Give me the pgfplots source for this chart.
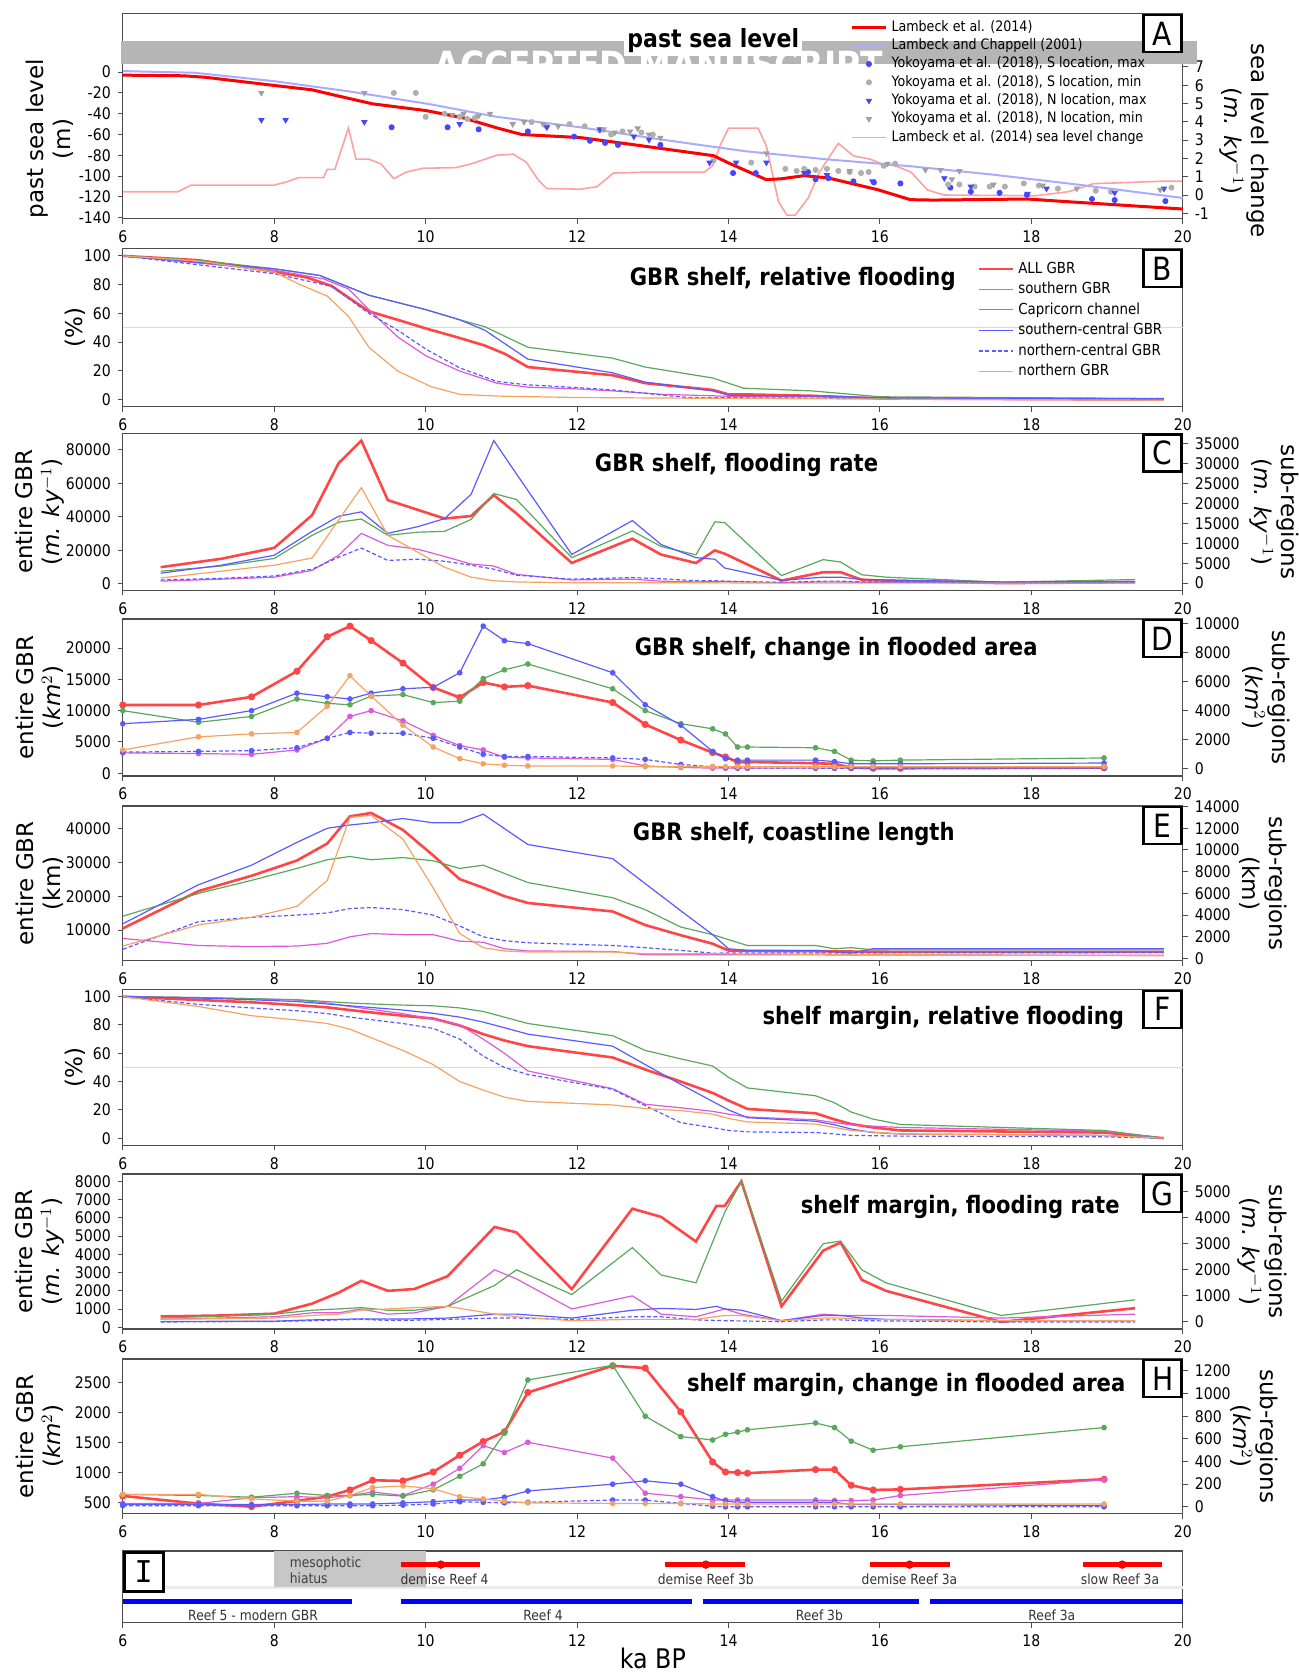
\documentclass[border=0pt]{standalone}
\usepackage{fontspec}
\setmainfont{DejaVu Sans}
\newfontfamily\cond{DejaVu Sans}[FakeStretch=0.88]
\newfontfamily\monof{DejaVu Sans Mono}
\usepackage{pgfplots}
\pgfplotsset{compat=1.18}

\definecolor{cR}{RGB}{255,70,70}
\definecolor{cM}{RGB}{218,90,218}
\definecolor{cG}{RGB}{90,168,90}
\definecolor{cB}{RGB}{90,90,255}
\definecolor{cO}{RGB}{246,162,96}
\definecolor{cLB}{RGB}{170,170,255}
\definecolor{cPk}{RGB}{255,160,160}
\definecolor{cSB}{RGB}{70,70,255}
\definecolor{cGy}{RGB}{175,175,175}
\definecolor{cGt}{RGB}{160,160,160}
\definecolor{band}{RGB}{181,181,181}

\newcommand{\tickf}{\cond\fontsize{8}{9}\selectfont}
\newcommand{\titf}{\cond\bfseries\fontsize{12}{14}\selectfont}
\newcommand{\labf}{\fontsize{11.5}{13.5}\selectfont}
\newcommand{\legf}{\cond\fontsize{7.2}{8}\selectfont}
\newcommand{\boxf}{\cond\fontsize{16}{16}\selectfont}
\newcommand{\smf}{\cond\fontsize{7}{8}\selectfont}

\tikzset{pbox/.style={draw=black, line width=1.2pt, fill=white, anchor=north east, minimum width=19pt, minimum height=18.5pt, inner sep=0pt, font=\boxf}}

\pgfplotsset{
 gbase/.style={scale only axis, width=530pt, xmin=6, xmax=20, xtick={6,8,10,12,14,16,18,20},
   tick label style={font=\tickf}, /pgf/number format/assume math mode=true,
   /pgf/number format/1000 sep={}, scaled y ticks=false, scaled x ticks=false,
   tick align=outside, major tick length=2.5pt,
   every tick/.style={black!70, line width=0.5pt},
   axis line style={black!70, line width=0.6pt}, clip=false, anchor=north west},
 lft/.style={gbase, xtick pos=bottom, ytick pos=left},
 rgt/.style={gbase, axis x line=none, axis y line*=right},
 pR/.style={cR, line width=1.3pt, mark=none},
 pM/.style={cM, line width=0.6pt, mark=none},
 pG/.style={cG, line width=0.6pt, mark=none},
 pB/.style={cB, line width=0.6pt, mark=none},
 pBd/.style={cB, line width=0.6pt, mark=none, dash pattern=on 2pt off 1.2pt},
 pO/.style={cO, line width=0.6pt, mark=none},
 mk/.style={mark=*, mark size=1.1pt, mark options={solid}},
}

\begin{document}
\begin{tikzpicture}
\useasboundingbox (0,0) rectangle (649pt,-837pt);

%%%%%%%%%%%%%%%% A %%%%%%%%%%%%%%%%
\begin{axis}[rgt, at={(61.4pt,-6.95pt)}, height=102.45pt, ymin=-1.3, ymax=9.9, ytick={-1,0,...,7}]
\addplot[cPk, line width=0.8pt] coordinates {(6,0.18)(6.73,0.18)(6.9,0.54)(8,0.54)(8.15,0.7)(8.32,0.95)(8.65,0.95)(8.7,1.4)(8.8,1.4)(8.98,3.66)(9.08,1.96)(9.25,1.96)(9.41,1.7)(9.58,0.89)(9.74,1.25)(9.96,1.46)(10.4,1.5)(10.6,1.7)(10.94,2.18)(11.16,2.23)(11.33,1.79)(11.49,0.8)(11.6,0.36)(12.04,0.32)(12.26,0.45)(12.48,1.2)(12.9,1.25)(13.68,1.25)(13.79,1.6)(13.9,2.8)(14,3.66)(14.39,3.66)(14.5,2.68)(14.66,-0.36)(14.77,-1.1)(14.88,-1.1)(15.05,-0.18)(15.2,1.25)(15.45,2.82)(15.65,2.14)(15.87,1.96)(16.03,1.7)(16.2,1.6)(16.41,1.25)(16.63,0.27)(16.85,0)(18.05,-0.04)(18.49,0.18)(18.82,0.62)(19.25,0.68)(19.7,0.75)(20,0.75)};
\end{axis}
\begin{axis}[lft, at={(61.4pt,-6.95pt)}, height=102.45pt, ymin=-141, ymax=56, ytick={-140,-120,...,0},
  legend style={at={(0.686,0.99)}, anchor=north west, draw=none, fill=none, font=\legf, row sep=-1.8pt, inner sep=0pt}, legend cell align=left]
\addplot[red, line width=1.5pt] coordinates {(6,-2.9)(6.8,-3.5)(7.1,-5)(8,-12.8)(8.5,-17)(8.76,-21.5)(9.3,-30.5)(10,-36.9)(10.5,-44)(10.94,-53.6)(11.27,-60)(12.04,-62.9)(12.7,-69.3)(13.8,-80.3)(14,-87.3)(14.5,-103.4)(14.7,-102.5)(15,-99.5)(15.32,-101.8)(15.97,-113)(16.4,-122.6)(16.7,-123)(17.95,-122)(18.4,-124.2)(20,-131.6)};
\addlegendentry{Lambeck et al. (2014)}
\addplot[cLB, line width=1pt] coordinates {(6,1)(6.95,-0.6)(8,-8.7)(8.97,-18.3)(10.07,-31)(10.94,-43)(12.04,-53)(13.13,-65)(14.22,-76)(15.32,-84)(16.41,-90.5)(17.5,-98.6)(18.6,-108)(20,-121)};
\addlegendentry{Lambeck and Chappell (2001)}
\addplot[cSB, only marks, mark=*, mark size=1.3pt] coordinates {(9.55,-53)(10.29,-53)(10.7,-55)(11.35,-57)(11.96,-62)(12.17,-66)(12.37,-68)(12.54,-70)(13.1,-70)(14.06,-97)(14.36,-97)(15.05,-96)(15.15,-103)(15.32,-102)(15.65,-105)(15.92,-106)(16.27,-107)(16.93,-111)(17.2,-115)(17.58,-116)(17.94,-118)(18.8,-122)(19.1,-123)(19.77,-124)};
\addlegendentry{Yokoyama et al. (2018), S location, max}
\addplot[cGy, only marks, mark=*, mark size=1.3pt] coordinates {(9.58,-20)(9.87,-20)(10.0,-43)(10.25,-40)(10.45,-43)(10.55,-45)(10.65,-44)(11.4,-48)(11.6,-52)(11.9,-50)(12.1,-52)(12.3,-56)(12.45,-60)(12.6,-57)(12.85,-58)(13.0,-60)(13.8,-85)(14.3,-87)(14.75,-93)(14.9,-95)(15.0,-93)(15.15,-94)(15.3,-93)(15.45,-95)(15.6,-96)(15.75,-97)(15.85,-96)(16.05,-90)(16.2,-88)(16.9,-108)(17.05,-108)(17.25,-110)(17.45,-110)(17.65,-110)(17.9,-107)(18.1,-109)(18.35,-112)(18.85,-114)(19.05,-115)(19.85,-111)};
\addlegendentry{Yokoyama et al. (2018), S location, min}
\addplot[cSB, only marks, mark=triangle*, mark size=1.5pt, mark options={rotate=180}] coordinates {(7.83,-46)(8.15,-46)(9.19,-48)(10.45,-50)(11.6,-53)(12.3,-55)(12.75,-62)(12.95,-65)(13.75,-87)(14.1,-87)(14.5,-87)(15.0,-97)(15.3,-99)(15.9,-105)(16.85,-102)(17.2,-110)(17.95,-117)(18.2,-112)(19.1,-116)(19.75,-112)};
\addlegendentry{Yokoyama et al. (2018), N location, max}
\addplot[cGt, only marks, mark=triangle*, mark size=1.5pt, mark options={rotate=180}] coordinates {(7.83,-20)(9.19,-20)(10.35,-41)(10.5,-40)(10.7,-42)(10.85,-40)(11.15,-50)(11.3,-48)(11.55,-50)(11.75,-52)(12.35,-55)(12.5,-58)(12.7,-57)(12.8,-54)(12.95,-60)(13.1,-63)(14.5,-78)(15.6,-95)(16.1,-88)(16.6,-94)(16.8,-94)(16.95,-103)(17.05,-95)(17.5,-108)(18.15,-109)(18.6,-112)(19.7,-113)};
\addlegendentry{Yokoyama et al. (2018), N location, min}
\addlegendimage{cPk, line width=0.8pt}
\addlegendentry{Lambeck et al. (2014) sea level change}
\fill[band] (axis cs:5.97,7.4) rectangle (axis cs:20.19,29.9);
\node[white, anchor=north, inner sep=0pt, font=\cond\bfseries\fontsize{18.7}{19}\selectfont] at (axis cs:13.08,20.5) {ACCEPTED MANUSCRIPT};
\node[fill=white, inner sep=1.5pt, font=\cond\bfseries\fontsize{12.5}{14}\selectfont] at (rel axis cs:0.557,0.87) {past sea level};
\node[pbox] at (rel axis cs:1,1) {A};
\node[rotate=90, align=center, font=\labf] at (rel axis cs:-0.069,0.39) {past sea level\\(m)};
\node[rotate=-90, align=center, font=\labf] at (rel axis cs:1.058,0.38) {sea level change\\(\textit{m. ky}$^{-1}$)};
\end{axis}

%%%%%%%%%%%%%%%% B %%%%%%%%%%%%%%%%
\begin{axis}[lft, at={(61.4pt,-124.35pt)}, height=79pt, ymin=-5, ymax=105, ytick={0,20,...,100},
  legend style={at={(0.806,0.945)}, anchor=north west, draw=none, fill=none, font=\cond\fontsize{7.6}{8}\selectfont, row sep=-1pt, inner sep=0pt}, legend cell align=left]
\addplot[black!15, line width=0.6pt, forget plot] coordinates {(6,50)(20,50)};
\addplot[pR] coordinates {(6,100)(7,97)(8,89)(8.43,85)(8.76,79)(8.98,71)(9.25,61.4)(9.63,55.5)(10,49.5)(10.4,43.6)(10.78,37.6)(11.05,31.7)(11.35,22.6)(11.82,20.2)(12.47,16.9)(12.9,11.4)(13.35,9)(13.79,6.7)(14,3.6)(14.2,3.6)(15.1,2.6)(15.43,1.9)(16,0.7)(19.75,0)};
\addlegendentry{ALL GBR}
\addplot[pM] coordinates {(6,100)(8,90)(8.65,84)(8.98,77)(9.25,62.6)(9.63,43.6)(10,30.5)(10.45,19.8)(10.94,11.4)(11.35,8.6)(12,7.4)(12.47,6)(13.13,3.6)(13.79,2.6)(14.2,1.9)(15.3,1.9)(16,0.7)(19.75,0)};
\addlegendentry{southern GBR}
\addplot[pG] coordinates {(6,100)(7,97)(8,91)(8.6,86.4)(9.25,72.6)(10,62.6)(10.45,55.5)(10.78,50.7)(11.35,36.4)(12.47,28.8)(12.9,22.6)(13.79,15)(14.2,7.9)(15.1,6)(16,1.9)(19.75,0.7)};
\addlegendentry{Capricorn channel}
\addplot[pB] coordinates {(6,100)(8,91)(8.6,86.4)(9.25,72.6)(10,62.6)(10.45,55.5)(10.78,48.3)(11.35,28.1)(12.47,18.6)(12.9,12.1)(13.79,6)(14,3.1)(14.2,2.6)(15.3,2.4)(16,1.2)(19.75,0.5)};
\addlegendentry{southern-central GBR}
\addplot[pBd] coordinates {(6,100)(8,87.6)(8.76,78.8)(9.25,60)(9.63,48.3)(10,35.2)(10.45,22)(10.94,12.6)(11.35,10.2)(12,8.3)(12.47,6.7)(13.13,3.1)(13.46,1.4)(14,1.2)(19.75,0)};
\addlegendentry{northern-central GBR}
\addplot[pO] coordinates {(6,100)(7,96.4)(8,88.8)(8.32,80.5)(8.7,72)(8.98,57.9)(9.25,36.4)(9.63,19.8)(10.07,9)(10.45,3.6)(10.94,2.4)(12,1.4)(14.2,0.7)(19.75,-0.5)};
\addlegendentry{northern GBR}
\node[font=\titf] at (rel axis cs:0.632,0.81) {GBR shelf, relative flooding};
\node[pbox] at (rel axis cs:1,1) {B};
\node[rotate=90, font=\labf] at (rel axis cs:-0.045,0.5) {(\%)};
\end{axis}

%%%%%%%%%%%%%%%% C %%%%%%%%%%%%%%%%
\begin{axis}[lft, at={(61.4pt,-216.7pt)}, height=78.45pt, ymin=-3800, ymax=89800, ytick={0,20000,...,80000}]
\addplot[pR] coordinates {(6.5,10000)(7.3,15000)(8,21500)(8.5,41000)(8.85,72000)(9.15,85500)(9.5,50000)(10.25,39000)(10.6,40500)(10.9,53000)(11.2,42000)(11.93,12500)(12.73,27000)(13.11,17500)(13.57,12500)(13.82,20000)(13.95,18000)(14.7,2000)(15.25,7000)(15.48,7000)(15.76,2500)(16.08,2000)(17.6,500)(19.37,1000)};
\node[rotate=90, align=center, font=\labf] at (rel axis cs:-0.078,0.5) {entire GBR\\(\textit{m. ky}$^{-1}$)};
\end{axis}
\begin{axis}[rgt, at={(61.4pt,-216.7pt)}, height=78.45pt, ymin=-1800, ymax=37600, ytick={0,5000,...,35000}]
\addplot[pM] coordinates {(6.5,500)(7.3,1000)(8,1500)(8.5,3200)(8.85,7000)(9.15,12500)(9.5,9500)(9.9,8500)(10.25,6700)(10.6,4800)(10.9,4300)(11.2,2200)(11.93,800)(12.73,1000)(13.11,500)(13.57,300)(13.82,400)(13.95,400)(14.7,100)(15.25,300)(15.48,300)(15.76,200)(16.08,200)(17.6,100)(19.37,200)};
\addplot[pG] coordinates {(6.5,3000)(7.3,4300)(8,6200)(8.5,12000)(8.85,15300)(9.15,16100)(9.5,12000)(9.9,12800)(10.25,13000)(10.6,16000)(10.9,22500)(11.2,21000)(11.93,6400)(12.73,13100)(13.11,9200)(13.57,7100)(13.82,15400)(13.95,15200)(14.7,1900)(15.25,5900)(15.48,5300)(15.76,2100)(16.08,1500)(17.6,250)(19.37,900)};
\addplot[pB] coordinates {(6.5,2500)(7.3,4500)(8,7000)(8.5,13000)(8.85,16800)(9.15,17900)(9.5,12500)(9.9,14200)(10.25,16200)(10.6,22300)(10.9,35800)(11.2,27400)(11.93,7200)(12.73,15700)(13.11,9700)(13.57,6400)(13.82,6000)(13.95,3800)(14.7,700)(15.25,1500)(15.48,1500)(15.76,900)(16.08,800)(17.6,300)(19.37,400)};
\addplot[pBd] coordinates {(6.5,800)(7.3,1200)(8,1800)(8.5,3500)(8.85,6500)(9.15,8800)(9.5,5700)(9.9,6000)(10.25,5500)(10.6,4500)(10.9,3500)(11.2,2000)(11.93,1000)(12.73,1400)(13.11,1100)(13.57,600)(13.82,600)(13.95,500)(14.7,200)(15.25,500)(15.48,500)(15.76,300)(16.08,300)(17.6,100)(19.37,200)};
\addplot[pO] coordinates {(6.5,1300)(7.3,3000)(8,4500)(8.5,6300)(9.15,24000)(9.5,12000)(10.25,4000)(10.6,1500)(10.9,600)(11.2,300)(11.93,100)(12.73,100)(13.57,100)(14.7,0)(17.6,0)(19.37,0)};
\node[font=\titf] at (rel axis cs:0.579,0.80) {GBR shelf, flooding rate};
\node[pbox] at (rel axis cs:1,1) {C};
\node[rotate=-90, align=center, font=\labf] at (rel axis cs:1.086,0.5) {sub-regions\\(\textit{m. ky}$^{-1}$)};
\end{axis}

%%%%%%%%%%%%%%%% D %%%%%%%%%%%%%%%%
\begin{axis}[lft, at={(61.4pt,-309.5pt)}, height=78.5pt, ymin=-440, ymax=24640, ytick={0,5000,...,20000}]
\addplot[pR, mk] coordinates {(6,10900)(7,10900)(7.7,12200)(8.3,16300)(8.7,21800)(9.0,23500)(9.28,21200)(9.7,17600)(10.1,13700)(10.45,12100)(10.76,14500)(11.04,13800)(11.35,14000)(12.47,11300)(12.9,7800)(13.37,5300)(13.79,3300)(13.96,2600)(14.12,1800)(14.25,1800)(15.15,1600)(15.4,1500)(15.62,900)(15.91,800)(16.27,800)(18.96,900)};
\node[rotate=90, align=center, font=\labf] at (rel axis cs:-0.078,0.5) {entire GBR\\(\textit{km}$^{2}$)};
\end{axis}
\begin{axis}[rgt, at={(61.4pt,-309.5pt)}, height=78.5pt, ymin=-490, ymax=10290, ytick={0,2000,...,10000}]
\addplot[pM, mk] coordinates {(6,1100)(7,1050)(7.7,1000)(8.3,1300)(8.7,2100)(9.0,3600)(9.28,4000)(9.7,3300)(10.1,2300)(10.45,1600)(10.76,1300)(11.04,800)(11.35,750)(12.47,650)(12.9,200)(13.37,100)(13.79,50)(13.96,50)(14.12,50)(14.25,50)(15.15,50)(15.4,50)(15.62,50)(15.91,50)(16.27,50)(18.96,100)};
\addplot[pG, mk] coordinates {(6,4000)(7,3200)(7.7,3600)(8.3,4800)(8.7,4500)(9.0,4400)(9.28,5000)(9.7,5100)(10.1,4550)(10.45,4650)(10.76,6200)(11.04,6800)(11.35,7200)(12.47,5500)(12.9,4000)(13.37,3100)(13.79,2750)(13.96,2400)(14.12,1500)(14.25,1500)(15.15,1450)(15.4,1200)(15.62,600)(15.91,550)(16.27,600)(18.96,750)};
\addplot[pB, mk] coordinates {(6,3100)(7,3400)(7.7,4000)(8.3,5200)(8.7,4950)(9.0,4800)(9.28,5200)(9.7,5500)(10.1,5600)(10.45,6600)(10.76,9800)(11.04,8800)(11.35,8600)(12.47,6600)(12.9,4400)(13.37,3000)(13.79,1200)(13.96,700)(14.12,600)(14.25,600)(15.15,600)(15.4,500)(15.62,350)(15.91,350)(16.27,350)(18.96,400)};
\addplot[pBd, mk] coordinates {(6,1150)(7,1200)(7.7,1250)(8.3,1450)(8.7,2100)(9.0,2500)(9.28,2450)(9.7,2450)(10.1,2100)(10.45,1500)(10.76,1000)(11.04,850)(11.35,850)(12.47,750)(12.9,650)(13.37,300)(13.79,150)(13.96,80)(14.12,60)(14.25,50)(15.15,50)(15.4,40)(15.62,40)(15.91,40)(16.27,40)(18.96,40)};
\addplot[pO, mk] coordinates {(6,1300)(7,2200)(7.7,2400)(8.3,2500)(8.7,4300)(9.0,6400)(9.28,5000)(9.7,3000)(10.1,1500)(10.45,700)(10.76,350)(11.04,250)(11.35,200)(12.47,200)(12.9,150)(13.37,150)(13.79,150)(13.96,150)(14.12,150)(14.25,150)(15.15,150)(15.4,150)(15.62,150)(15.91,150)(16.27,150)(18.96,150)};
\node[font=\titf] at (rel axis cs:0.673,0.81) {GBR shelf, change in flooded area};
\node[pbox] at (rel axis cs:1,1) {D};
\node[rotate=-90, align=center, font=\labf] at (rel axis cs:1.079,0.5) {sub-regions\\(\textit{km}$^{2}$)};
\end{axis}

%%%%%%%%%%%%%%%% E %%%%%%%%%%%%%%%%
\begin{axis}[lft, at={(61.4pt,-403pt)}, height=77.35pt, ymin=1000, ymax=46550, ytick={10000,20000,30000,40000}]
\addplot[pR] coordinates {(6,10500)(7,21500)(7.7,26000)(8.3,30500)(8.7,35500)(9.0,43500)(9.28,44500)(9.7,39500)(10.1,32000)(10.45,25000)(10.76,22500)(11.04,20000)(11.35,18000)(12.47,15500)(12.9,11500)(13.37,8500)(13.79,6000)(14.0,4000)(14.25,3900)(15.15,3800)(15.62,3700)(16.27,3600)(19.75,3600)};
\node[rotate=90, align=center, font=\labf] at (rel axis cs:-0.078,0.5) {entire GBR\\(km)};
\end{axis}
\begin{axis}[rgt, at={(61.4pt,-403pt)}, height=77.35pt, ymin=-200, ymax=14050, ytick={0,2000,...,14000}]
\addplot[pM] coordinates {(6,1850)(7,1200)(7.7,1100)(8.3,1150)(8.7,1400)(9.0,2000)(9.28,2300)(9.7,2200)(10.1,2200)(10.45,1600)(10.76,1500)(11.04,900)(11.35,700)(12.47,650)(12.9,350)(13.37,350)(19.75,300)};
\addplot[pG] coordinates {(6,3900)(7,6000)(7.7,7200)(8.3,8300)(8.7,9100)(9.0,9400)(9.28,9100)(9.7,9300)(10.1,9000)(10.45,8300)(10.76,8600)(11.35,7000)(12.47,5600)(12.9,4500)(13.37,2900)(13.79,2200)(14.25,1200)(15.15,1200)(15.4,900)(15.62,1000)(15.91,800)(16.27,800)(19.75,800)};
\addplot[pB] coordinates {(6,3200)(7,6800)(7.7,8600)(8.3,10700)(8.7,12000)(9.0,12300)(9.28,12500)(9.7,12900)(10.1,12500)(10.45,12500)(10.76,13300)(11.35,10500)(12.47,9200)(12.9,6900)(13.37,4400)(13.79,2200)(14.0,900)(14.25,750)(15.15,750)(15.62,500)(15.91,900)(16.27,900)(19.75,900)};
\addplot[pBd] coordinates {(6,850)(7,3400)(7.7,3800)(8.3,4000)(8.7,4200)(9.0,4600)(9.28,4700)(9.7,4500)(10.1,4000)(10.45,3000)(10.76,2000)(11.04,1650)(11.35,1450)(12.47,1200)(12.9,1000)(13.37,750)(13.79,500)(19.75,550)};
\addplot[pO] coordinates {(6,1150)(7,3100)(7.7,3800)(8.3,4800)(8.7,7200)(9.0,13000)(9.28,13200)(9.7,11000)(10.1,6500)(10.45,2300)(10.76,1000)(11.04,700)(11.35,600)(12.47,600)(12.9,450)(13.37,450)(19.75,250)};
\node[font=\titf] at (rel axis cs:0.633,0.82) {GBR shelf, coastline length};
\node[pbox] at (rel axis cs:1,1) {E};
\node[rotate=-90, align=center, font=\labf] at (rel axis cs:1.076,0.5) {sub-regions\\(km)};
\end{axis}

%%%%%%%%%%%%%%%% F %%%%%%%%%%%%%%%%
\begin{axis}[lft, at={(61.4pt,-494.75pt)}, height=77.9pt, ymin=-5, ymax=105, ytick={0,20,...,100}]
\addplot[black!15, line width=0.6pt] coordinates {(6,50)(20,50)};
\addplot[pR] coordinates {(6,100)(7,97.6)(7.7,96)(8.3,94)(8.7,92.4)(9.0,90.5)(9.3,88.7)(9.7,86.5)(10.1,84.5)(10.45,79.6)(10.76,73.5)(11.04,69)(11.35,65)(12.47,57)(12.9,48.5)(13.37,40)(13.79,32)(14.0,26.6)(14.25,20.7)(15.15,17.6)(15.4,13.3)(15.62,10)(15.91,7.6)(16.27,5.5)(18.96,4)(19.75,0)};
\addplot[pM] coordinates {(6,100)(7,99.3)(7.7,98.5)(8.3,97.6)(8.7,95.5)(9.0,93)(9.7,88)(10.1,84)(10.45,80)(10.76,70)(11.04,60)(11.35,47.5)(12.47,35)(12.9,24)(13.37,21.5)(13.79,19)(14.0,17)(14.25,15)(15.15,13)(15.4,11)(15.62,9.5)(15.91,8.5)(16.27,7.6)(18.96,5)(19.75,0)};
\addplot[pG] coordinates {(6,100)(7,99.3)(7.7,98.5)(8.3,97.8)(8.7,96.5)(9.0,95.5)(9.3,94.8)(9.7,94)(10.1,93.5)(10.45,92)(10.76,89.5)(11.04,85.5)(11.35,81)(12.47,72.4)(12.9,62)(13.37,56)(13.79,51)(14.0,43)(14.25,35.5)(15.15,30)(15.4,25)(15.62,18.5)(15.91,13.5)(16.27,9.7)(18.96,5.5)(19.75,0)};
\addplot[pB] coordinates {(6,100)(7,99)(7.7,97.8)(8.3,96.5)(8.7,94.8)(9.0,93.5)(9.7,90.5)(10.1,88.2)(10.45,85.5)(10.76,82)(11.04,78)(11.35,73.5)(12.47,65)(12.9,52)(13.37,38)(13.79,26)(14.0,20)(14.25,14.5)(15.15,12)(15.4,9.5)(15.62,6.5)(15.91,4)(16.27,3)(18.96,2)(19.75,0)};
\addplot[pBd] coordinates {(6,100)(7,94.5)(7.7,92)(8.3,90)(8.7,88)(9.0,85.5)(9.7,81)(10.1,77.5)(10.45,70)(10.76,58)(11.04,50)(11.35,45)(12.47,34.5)(12.9,23)(13.37,11)(13.79,7.5)(14.0,5.5)(14.25,4.5)(15.15,4)(15.4,3)(15.62,2)(16.27,1.5)(18.96,1)(19.75,0)};
\addplot[pO] coordinates {(6,100)(7,93)(7.7,86.5)(8.3,83.5)(8.7,81)(9.0,77)(9.3,70.5)(9.7,62)(10.1,52)(10.45,40)(10.76,34)(11.04,29)(11.35,26)(12.47,23.5)(12.9,21)(13.37,19.5)(13.79,17)(14.0,14)(14.25,11.5)(15.15,10)(15.4,7.6)(15.62,5.5)(16.27,3)(18.96,2)(19.75,0)};
\node[font=\titf] at (rel axis cs:0.774,0.815) {shelf margin, relative flooding};
\node[pbox] at (rel axis cs:1,1) {F};
\node[rotate=90, font=\labf] at (rel axis cs:-0.045,0.5) {(\%)};
\end{axis}

%%%%%%%%%%%%%%%% G %%%%%%%%%%%%%%%%
\begin{axis}[lft, at={(61.4pt,-587pt)}, height=77.5pt, ymin=-90, ymax=8400, ytick={0,1000,...,8000}]
\addplot[pR] coordinates {(6.5,600)(7.3,650)(8.0,750)(8.5,1300)(8.85,1900)(9.15,2550)(9.5,2000)(9.85,2100)(10.29,2800)(10.91,5500)(11.2,5200)(11.93,2100)(12.73,6500)(13.11,6050)(13.57,4700)(13.84,6650)(13.95,6650)(14.17,8000)(14.7,1150)(15.25,4200)(15.48,4650)(15.76,2600)(16.08,2000)(17.6,300)(19.37,1050)};
\node[rotate=90, align=center, font=\labf] at (rel axis cs:-0.078,0.5) {entire GBR\\(\textit{m. ky}$^{-1}$)};
\end{axis}
\begin{axis}[rgt, at={(61.4pt,-587pt)}, height=77.5pt, ymin=-270, ymax=5670, ytick={0,1000,...,5000}]
\addplot[pM] coordinates {(6.5,100)(8.0,200)(8.5,350)(8.85,350)(9.15,500)(9.5,300)(9.85,350)(10.29,600)(10.91,2000)(11.2,1650)(11.93,500)(12.73,1000)(13.11,300)(13.57,200)(13.95,500)(14.17,300)(14.7,50)(15.25,300)(15.48,250)(15.76,250)(16.08,250)(17.6,150)(19.37,300)};
\addplot[pG] coordinates {(6.5,150)(8.0,300)(8.5,450)(8.85,500)(9.15,550)(9.5,450)(9.85,450)(10.29,600)(10.91,1400)(11.2,2000)(11.93,1050)(12.73,2850)(13.11,1800)(13.57,1500)(13.95,4200)(14.17,5400)(14.7,800)(15.25,3000)(15.48,3100)(15.76,2000)(16.08,1500)(17.6,250)(19.37,850)};
\addplot[pB] coordinates {(6.5,20)(8.0,30)(8.5,80)(8.85,100)(9.15,120)(9.5,110)(9.85,120)(10.29,150)(10.91,300)(11.2,300)(11.93,150)(12.73,450)(13.11,520)(13.57,480)(13.84,600)(13.95,500)(14.17,450)(14.7,50)(15.25,250)(15.48,250)(15.76,150)(16.08,100)(17.6,50)(19.37,50)};
\addplot[pBd] coordinates {(6.5,0)(8.0,20)(8.5,50)(8.85,80)(9.15,100)(9.5,60)(9.85,70)(10.29,100)(10.91,150)(11.2,150)(11.93,100)(12.73,200)(13.11,200)(13.57,80)(13.95,50)(14.17,40)(14.7,10)(15.25,80)(15.48,80)(15.76,50)(16.08,40)(17.6,0)(19.37,0)};
\addplot[pO] coordinates {(6.5,100)(8.0,150)(8.5,250)(8.85,300)(9.15,450)(9.5,500)(9.85,550)(10.29,600)(10.91,300)(11.2,200)(11.93,50)(12.73,100)(13.11,100)(13.57,100)(13.95,250)(14.17,250)(14.7,50)(15.25,150)(15.48,150)(15.76,100)(16.08,100)(17.6,50)(19.37,50)};
\node[font=\titf] at (rel axis cs:0.79,0.786) {shelf margin, flooding rate};
\node[pbox] at (rel axis cs:1,1) {G};
\node[rotate=-90, align=center, font=\labf] at (rel axis cs:1.075,0.5) {sub-regions\\(\textit{m. ky}$^{-1}$)};
\end{axis}

%%%%%%%%%%%%%%%% H %%%%%%%%%%%%%%%%
\begin{axis}[lft, at={(61.4pt,-679.5pt)}, height=77.3pt, ymin=317, ymax=2890, ytick={500,1000,...,2500}]
\addplot[pR, mk] coordinates {(6,611)(7,483)(7.7,433)(8.3,528)(8.7,600)(9.0,711)(9.3,872)(9.7,861)(10.1,1011)(10.45,1289)(10.76,1517)(11.04,1678)(11.35,2333)(12.47,2778)(12.9,2739)(13.37,2011)(13.79,1178)(13.96,1010)(14.12,1000)(14.25,990)(15.15,1050)(15.4,1050)(15.62,789)(15.91,711)(16.27,720)(18.96,889)};
\node[rotate=90, align=center, font=\labf] at (rel axis cs:-0.078,0.5) {entire GBR\\(\textit{km}$^{2}$)};
\end{axis}
\begin{axis}[rgt, at={(61.4pt,-679.5pt)}, height=77.3pt, ymin=-60, ymax=1305, ytick={0,200,...,1200}]
\addplot[pM, mk] coordinates {(6,30)(7,30)(7.7,80)(8.3,90)(8.7,80)(9.0,100)(9.3,130)(9.7,100)(10.1,200)(10.45,340)(10.76,540)(11.04,480)(11.35,570)(12.47,430)(12.9,120)(13.37,90)(13.79,60)(13.96,60)(14.12,60)(14.25,60)(15.15,60)(15.4,55)(15.62,55)(15.91,60)(16.27,100)(18.96,240)};
\addplot[pG, mk] coordinates {(6,110)(7,100)(7.7,85)(8.3,120)(8.7,100)(9.0,100)(9.3,110)(9.7,95)(10.1,150)(10.45,270)(10.76,380)(11.04,650)(11.35,1120)(12.47,1250)(12.9,800)(13.37,620)(13.79,590)(13.96,640)(14.12,660)(14.25,680)(15.15,740)(15.4,700)(15.62,580)(15.91,500)(16.27,530)(18.96,700)};
\addplot[pB, mk] coordinates {(6,20)(7,20)(7.7,20)(8.3,20)(8.7,25)(9.0,25)(9.3,25)(9.7,35)(10.1,45)(10.45,60)(10.76,60)(11.04,85)(11.35,140)(12.47,200)(12.9,230)(13.37,200)(13.79,90)(13.96,50)(14.12,40)(14.25,40)(15.15,40)(15.4,40)(15.62,20)(15.91,20)(16.27,20)(18.96,10)};
\addplot[pBd, mk] coordinates {(6,10)(7,10)(7.7,10)(8.3,10)(8.7,10)(9.0,10)(9.3,10)(9.7,15)(10.1,25)(10.45,45)(10.76,40)(11.04,35)(11.35,40)(12.47,60)(12.9,60)(13.37,30)(13.79,5)(13.96,0)(14.12,0)(14.25,0)(15.15,0)(15.4,0)(15.62,0)(15.91,0)(16.27,0)(18.96,0)};
\addplot[pO, mk] coordinates {(6,110)(7,110)(7.7,70)(8.3,50)(8.7,50)(9.0,100)(9.3,170)(9.7,185)(10.1,160)(10.45,90)(10.76,70)(11.04,50)(11.35,35)(12.47,30)(12.9,30)(13.37,30)(13.79,25)(13.96,25)(14.12,25)(14.25,25)(15.15,25)(15.4,25)(15.62,25)(15.91,25)(16.27,25)(18.96,25)};
\node[font=\titf] at (rel axis cs:0.739,0.83) {shelf margin, change in flooded area};
\node[pbox] at (rel axis cs:1,1) {H};
\node[rotate=-90, align=center, font=\labf] at (rel axis cs:1.067,0.5) {sub-regions\\(\textit{km}$^{2}$)};
\end{axis}

%%%%%%%%%%%%%%%% I %%%%%%%%%%%%%%%%
\begin{axis}[lft, at={(61.4pt,-775.5pt)}, height=35.75pt, ymin=0, ymax=1, ytick=\empty]
\addplot[black!8, line width=1.4pt] coordinates {(6,0.49)(20,0.49)};
\addplot[fill=black!22, draw=none] coordinates {(8,0.5)(10,0.5)(10,1)(8,1)} -- cycle;
\addplot[red, line width=2.3pt] coordinates {(9.67,0.81)(10.72,0.81)};
\addplot[red, line width=2.3pt] coordinates {(13.16,0.81)(14.22,0.81)};
\addplot[red, line width=2.3pt] coordinates {(15.87,0.81)(16.93,0.81)};
\addplot[red, line width=2.3pt] coordinates {(18.68,0.81)(19.73,0.81)};
\addplot[red, only marks, mark=*, mark size=1.9pt] coordinates {(10.2,0.81)(13.7,0.81)(16.39,0.81)(19.2,0.81)};
\addplot[blue, line width=2.3pt] coordinates {(6,0.29)(9.03,0.29)};
\addplot[blue, line width=2.3pt] coordinates {(9.67,0.29)(13.52,0.29)};
\addplot[blue, line width=2.3pt] coordinates {(13.66,0.29)(16.52,0.29)};
\addplot[blue, line width=2.3pt] coordinates {(16.66,0.29)(20,0.29)};
\node[anchor=north west, align=left, inner sep=0pt, font=\smf, text=black!75] at (axis cs:8.2,0.93) {mesophotic\\hiatus};
\node[font=\smf, text=black!80] at (axis cs:10.25,0.6) {demise Reef 4};
\node[font=\smf, text=black!80] at (axis cs:13.7,0.6) {demise Reef 3b};
\node[font=\smf, text=black!80] at (axis cs:16.39,0.6) {demise Reef 3a};
\node[font=\smf, text=black!80] at (axis cs:19.17,0.6) {slow Reef 3a};
\node[font=\smf, text=black!80] at (axis cs:7.72,0.1) {Reef 5 - modern GBR};
\node[font=\smf, text=black!80] at (axis cs:11.55,0.1) {Reef 4};
\node[font=\smf, text=black!80] at (axis cs:15.2,0.1) {Reef 3b};
\node[font=\smf, text=black!80] at (axis cs:18.27,0.1) {Reef 3a};
\node[draw=black, line width=1.4pt, fill=white, anchor=north west, minimum width=19.5pt, minimum height=19.5pt, inner sep=0pt, font=\monof\fontsize{15}{15}\selectfont] at (rel axis cs:0,1) {I};
\node[font=\cond\fontsize{13.5}{14}\selectfont] at (rel axis cs:0.5,-0.5) {ka BP};
\end{axis}
\end{tikzpicture}
\end{document}
